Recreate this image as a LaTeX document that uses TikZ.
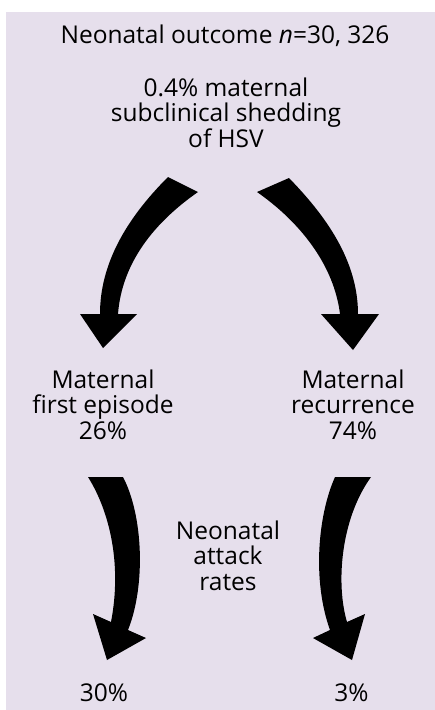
\documentclass[tikz,border=0pt]{standalone}
\usepackage{fontspec}
\setmainfont{Open Sans}
\definecolor{lavender}{RGB}{230,223,236}
\begin{document}
\begin{tikzpicture}[x=1pt,y=-1pt,
  txt/.style={align=center,inner sep=0pt,anchor=base,
    font=\fontsize{24.5}{25.5}\selectfont},
  blockarrow/.style={fill=black}]
  % Background
  \useasboundingbox (0,0) rectangle (435,710);
  \fill[lavender] (6,12) rectangle (435,710);

  % Texts (anchored at the baseline of the last line)
  \node[txt] (title) at (225,43.3) {Neonatal outcome \textit{n}=30, 326};
  \node[txt] (shed) at (226,147) {0.4\% maternal\\subclinical shedding\\of HSV};
  \node[txt] (first) at (103,439) {Maternal\\first episode\\26\%};
  \node[txt] (recur) at (353,439) {Maternal\\recurrence\\74\%};
  \node[txt] (attack) at (228,590) {Neonatal\\attack\\rates};
  \node[txt] (low) at (104,701.7) {30\%};
  \node[txt] (high) at (351.5,701.7) {3\%};

  % Upper arrows
  \fill[blockarrow] (168,177) .. controls (125,220) and (100,265) .. (100,314)
    -- (80,314) -- (103,348) -- (137,314) -- (118,314)
    .. controls (122,262) and (155,222) .. (198,192) -- cycle;
  \fill[blockarrow] (289,178) .. controls (325,215) and (358,260) .. (358,314)
    -- (379,314) -- (353,350) -- (321,314) -- (340,314)
    .. controls (334,265) and (300,222) .. (257,192) -- cycle;

  % Lower arrows
  \fill[blockarrow] (88,477) .. controls (110,512) and (122,565) .. (111,622)
    -- (93,614) -- (107,660) -- (146,638) -- (128,630)
    .. controls (146,585) and (143,515) .. (123,477) -- cycle;
  \fill[blockarrow] (335,477) .. controls (318,515) and (312,580) .. (330,630)
    -- (313,638) -- (352,660) -- (365,614) -- (347,622)
    .. controls (336,585) and (340,520) .. (371,477) -- cycle;
\end{tikzpicture}
\end{document}
